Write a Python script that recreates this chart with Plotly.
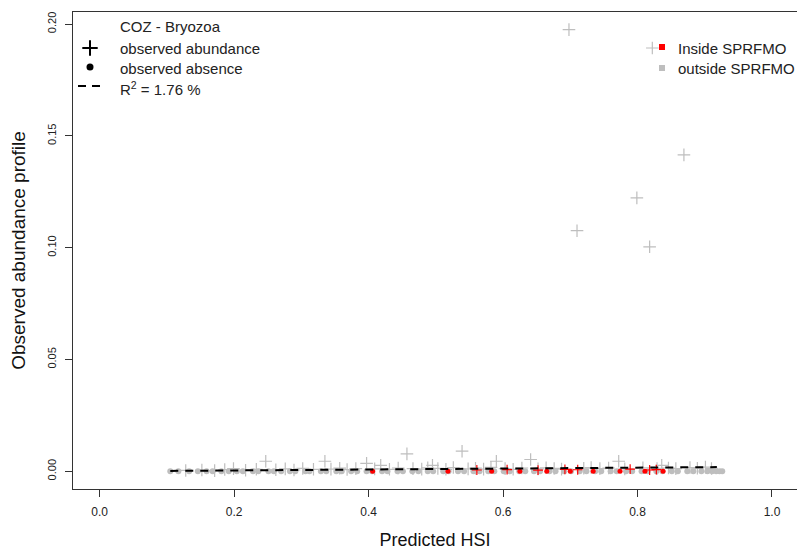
import plotly.graph_objects as go

# ---------------- data ----------------
x_ticks = [0.0, 0.2, 0.4, 0.6, 0.8, 1.0]
x_tick_labels = ["0.0", "0.2", "0.4", "0.6", "0.8", "1.0"]
y_ticks = [0.0, 0.05, 0.10, 0.15, 0.20]
y_tick_labels = ["0.00", "0.05", "0.10", "0.15", "0.20"]

# outside SPRFMO, observed absence (y = 0)
out_absent_x = [0.105, 0.117, 0.133, 0.146, 0.159, 0.168, 0.181, 0.192, 0.204, 0.213,
                0.228, 0.236, 0.251, 0.259, 0.270, 0.283, 0.291, 0.306, 0.312, 0.329,
                0.337, 0.352, 0.360, 0.374, 0.383, 0.397, 0.405, 0.420, 0.428, 0.443,
                0.451, 0.465, 0.474, 0.488, 0.496, 0.511, 0.519, 0.533, 0.542, 0.556,
                0.565, 0.578, 0.587, 0.601, 0.610, 0.624, 0.633, 0.646, 0.655, 0.669,
                0.678, 0.691, 0.701, 0.714, 0.724, 0.737, 0.746, 0.760, 0.769, 0.783,
                0.792, 0.806, 0.815, 0.828, 0.837, 0.851, 0.860, 0.874, 0.883, 0.895,
                0.904, 0.911, 0.917, 0.922, 0.926]
out_absent_y = [0.0] * len(out_absent_x)

# outside SPRFMO, observed abundance
out_abund_x = [0.128, 0.152, 0.171, 0.186, 0.199, 0.217, 0.233, 0.247, 0.262, 0.276,
               0.289, 0.302, 0.318, 0.335, 0.344, 0.357, 0.368, 0.381, 0.397, 0.409,
               0.418, 0.431, 0.444, 0.457, 0.466, 0.479, 0.488, 0.495, 0.503, 0.515,
               0.526, 0.539, 0.548, 0.559, 0.571, 0.582, 0.590, 0.603, 0.615, 0.628,
               0.641, 0.652, 0.664, 0.676, 0.687, 0.698, 0.710, 0.720, 0.731, 0.744,
               0.757, 0.772, 0.781, 0.799, 0.808, 0.818, 0.822, 0.829, 0.836, 0.846,
               0.857, 0.869, 0.878, 0.889, 0.901, 0.910]
out_abund_y = [0.0004, 0.0006, 0.0003, 0.0008, 0.0012, 0.0005, 0.0009, 0.0045, 0.0007, 0.0011,
               0.0006, 0.0013, 0.0009, 0.0045, 0.0010, 0.0014, 0.0008, 0.0012, 0.0036, 0.0011,
               0.0027, 0.0009, 0.0015, 0.0078, 0.0012, 0.0010, 0.0016, 0.0027, 0.0013, 0.0009,
               0.0017, 0.0090, 0.0011, 0.0014, 0.0010, 0.0018, 0.0045, 0.0012, 0.0009, 0.0015,
               0.0053, 0.0011, 0.0016, 0.0013, 0.0010, 0.1975, 0.1076, 0.0014, 0.0017, 0.0012,
               0.0015, 0.0045, 0.0011, 0.1223, 0.0016, 0.1004, 0.1893, 0.0013, 0.0027, 0.0015,
               0.0012, 0.1415, 0.0017, 0.0014, 0.0019, 0.0013]

# inside SPRFMO
in_absent_x = [0.406, 0.518, 0.583, 0.625, 0.665, 0.700, 0.734, 0.774, 0.811, 0.838]
in_absent_y = [0.0] * len(in_absent_x)
in_abund_x = [0.561, 0.606, 0.652, 0.692, 0.711, 0.789, 0.818, 0.828]
in_abund_y = [0.0006, 0.0008, 0.0005, 0.0009, 0.0007, 0.0010, 0.0006, 0.0008]

# linear fit (R^2 = 1.76 %)
fit_x = [0.105, 0.918]
fit_y = [0.0002, 0.0019]

species_label = "COZ - Bryozoa"
r2_label = "R<sup>2</sup> = 1.76 %"

# ---------------- layout helpers ----------------
X0, X1 = -0.0397, 1.0372
Y0, Y1 = -0.0079, 0.2054
L, T, B = 73, 12, 62
W, H = 797, 551


def px(xp):
    return X0 + (xp - L) / (W - L) * (X1 - X0)


def py(yp):
    return Y1 - (yp - T) / (H - B - T) * (Y1 - Y0)


GRAY = "#BEBEBE"
RED = "#FF0000"
FONT = "Liberation Sans, Arial, sans-serif"

fig = go.Figure()

fig.add_trace(go.Scatter(x=out_absent_x, y=out_absent_y, mode="markers",
                         marker=dict(symbol="circle", size=6, color=GRAY), showlegend=False))
fig.add_trace(go.Scatter(x=out_abund_x, y=out_abund_y, mode="markers",
                         marker=dict(symbol="cross-thin", size=9,
                                     line=dict(color=GRAY, width=1.2)), showlegend=False))
fig.add_trace(go.Scatter(x=in_absent_x, y=in_absent_y, mode="markers",
                         marker=dict(symbol="circle", size=5, color=RED), showlegend=False))
fig.add_trace(go.Scatter(x=in_abund_x, y=in_abund_y, mode="markers",
                         marker=dict(symbol="cross-thin", size=7,
                                     line=dict(color=RED, width=1.2)), showlegend=False))
fig.add_trace(go.Scatter(x=fit_x, y=fit_y, mode="lines",
                         line=dict(color="black", width=2, dash="8px,7px"), showlegend=False))

# legend symbols (top-left)
fig.add_trace(go.Scatter(x=[px(90)], y=[py(48)], mode="markers", cliponaxis=False,
                         marker=dict(symbol="cross-thin", size=11,
                                     line=dict(color="black", width=2)), showlegend=False))
fig.add_trace(go.Scatter(x=[px(90)], y=[py(67)], mode="markers", cliponaxis=False,
                         marker=dict(symbol="circle", size=7, color="black"), showlegend=False))
fig.add_trace(go.Scatter(x=[px(78), px(101)], y=[py(86), py(86)], mode="lines", cliponaxis=False,
                         line=dict(color="black", width=2, dash="8px,6px"), showlegend=False))
# legend symbols (top-right)
fig.add_trace(go.Scatter(x=[px(662)], y=[py(47)], mode="markers",
                         marker=dict(symbol="square", size=6, color=RED), showlegend=False))
fig.add_trace(go.Scatter(x=[px(662)], y=[py(68)], mode="markers",
                         marker=dict(symbol="square", size=6, color=GRAY), showlegend=False))

ann = []
for text, xp, yp in [(species_label, 118, 26), ("observed abundance", 118, 48),
                     ("observed absence", 118, 68), (r2_label, 118, 88),
                     ("Inside SPRFMO", 676, 48), ("outside SPRFMO", 676, 68)]:
    ann.append(dict(x=px(xp), y=py(yp), xref="x", yref="y", text=text, showarrow=False,
                    xanchor="left", yanchor="middle",
                    font=dict(family=FONT, size=15, color="#222")))

fig.update_layout(
    width=W, height=H,
    margin=dict(l=L, r=0, t=T, b=B, pad=0, autoexpand=False),
    paper_bgcolor="white", plot_bgcolor="white",
    annotations=ann,
    xaxis=dict(range=[X0, X1], tickvals=x_ticks, ticktext=x_tick_labels, automargin=False,
               showgrid=False, zeroline=False, showline=True, linecolor="#333",
               linewidth=1, mirror=True, ticks="outside", ticklen=7, tickcolor="#333",
               ticklabelstandoff=5,
               tickfont=dict(family=FONT, size=12, color="#222"),
               title=dict(text="Predicted HSI", font=dict(family=FONT, size=18, color="#111"),
                          standoff=14)),
    yaxis=dict(range=[Y0, Y1], tickvals=y_ticks, ticktext=y_tick_labels, automargin=False,
               showgrid=False, zeroline=False, showline=True, linecolor="#333",
               linewidth=1, mirror=False, ticks="outside", ticklen=7, tickcolor="#333",
               tickangle=-90, ticklabelstandoff=5,
               tickfont=dict(family=FONT, size=11, color="#222"),
               title=dict(text="Observed abundance profile",
                          font=dict(family=FONT, size=19, color="#111"), standoff=14)),
)

fig.write_html("out.html", config={"displayModeBar": False},
               post_script="document.body.style.margin='0';")
